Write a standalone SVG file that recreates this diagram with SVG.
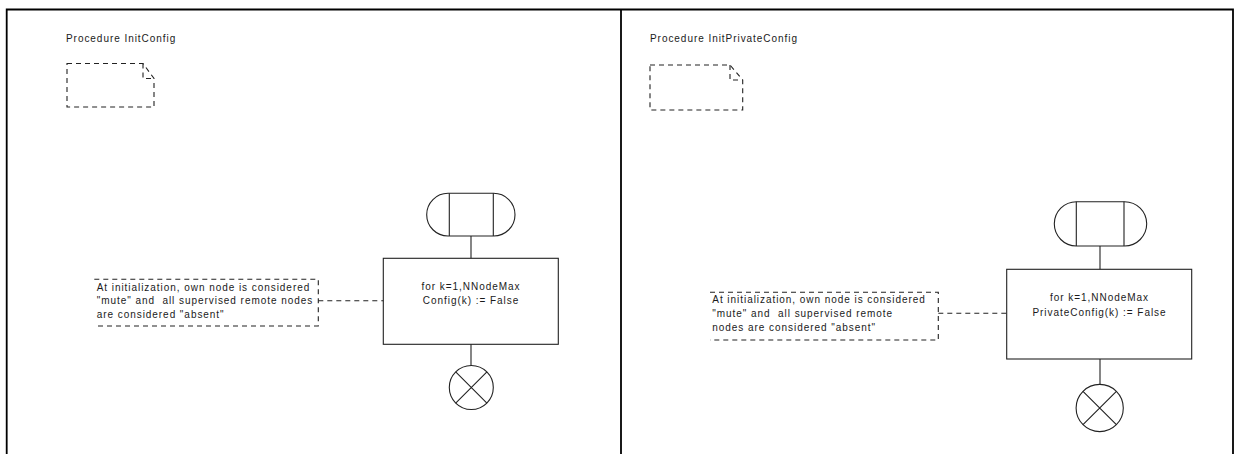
<svg xmlns="http://www.w3.org/2000/svg" width="1237" height="454" viewBox="0 0 1237 454">
<style>
text{font-family:"Liberation Sans",Arial,sans-serif;font-size:10px;letter-spacing:0.95px;fill:#1a1a1a;white-space:pre}
.frame{fill:none;stroke:#000;stroke-width:1.8}
.ln{fill:none;stroke:#222;stroke-width:1.1}
.dash{fill:none;stroke:#222;stroke-width:1.1;stroke-dasharray:5,4}
.mid{text-anchor:middle}
</style>
<rect width="1237" height="454" fill="#fff"/>
<g id="frame">
<path class="frame" d="M6.7,456 V9.5 H1233 V456"/>
<path class="frame" d="M621,9.5 V456"/>
</g>
<g id="title-left"><text x="66" y="42">Procedure InitConfig</text></g>
<g id="title-right"><text x="650" y="42">Procedure InitPrivateConfig</text></g>
<g id="textsym-left">
<path class="dash" d="M67,63.5 H143 L154,78.5 V107 H67 Z"/>
<path class="dash" d="M143,63.5 V78.5 H154"/>
</g>
<g id="textsym-right">
<path class="dash" d="M650,65 H730 L742.7,80 V110 H650 Z"/>
<path class="dash" d="M730,65 V80 H742.7"/>
</g>
<g id="connectors">
<path class="ln" d="M471,236 V258.3"/>
<path class="ln" d="M471,344.3 V365.5"/>
<path class="dash" d="M318.3,300.7 H383.3"/>
<path class="ln" d="M1100,246 V269.3"/>
<path class="ln" d="M1100,359 V384.5"/>
<path class="dash" d="M938.3,313.3 H1006.7"/>
</g>
<g id="start-left">
<rect class="ln" x="426.7" y="193.3" width="88.3" height="42.7" rx="21.35" ry="21.35"/>
<path class="ln" d="M449.3,193.3 V236 M493.3,193.3 V236"/>
</g>
<g id="task-left">
<rect class="ln" x="383.3" y="258.3" width="175" height="86"/>
<text class="mid" x="471" y="290">for k=1,NNodeMax</text>
<text class="mid" x="471" y="304">Config(k) := False</text>
</g>
<g id="stop-left">
<circle class="ln" cx="471.3" cy="387.5" r="22"/>
<path class="ln" d="M455.7,371.9 L486.9,403.1 M486.9,371.9 L455.7,403.1"/>
</g>
<g id="comment-left">
<path class="dash" d="M94.3,279.3 H318.3 V326 H94.3"/>
<text x="96.7" y="290.7">At initialization, own node is considered</text>
<text x="96.7" y="304.2">"mute" and  all supervised remote nodes</text>
<text x="96.7" y="317.7">are considered "absent"</text>
</g>
<g id="start-right">
<rect class="ln" x="1054.3" y="201.7" width="92.4" height="44.3" rx="22.15" ry="22.15"/>
<path class="ln" d="M1076.3,201.7 V246 M1124,201.7 V246"/>
</g>
<g id="task-right">
<rect class="ln" x="1006.7" y="269.3" width="185" height="89.7"/>
<text class="mid" x="1099.5" y="300.7">for k=1,NNodeMax</text>
<text class="mid" x="1099.5" y="315.7">PrivateConfig(k) := False</text>
</g>
<g id="stop-right">
<circle class="ln" cx="1099.7" cy="408" r="23.6"/>
<path class="ln" d="M1083,391.3 L1116.4,424.7 M1116.4,391.3 L1083,424.7"/>
</g>
<g id="comment-right">
<path class="dash" d="M710,292.3 H938.3 V340 H710"/>
<text x="712.3" y="302.7">At initialization, own node is considered</text>
<text x="712.3" y="316.7">"mute" and  all supervised remote</text>
<text x="712.3" y="330.7">nodes are considered "absent"</text>
</g>
</svg>
